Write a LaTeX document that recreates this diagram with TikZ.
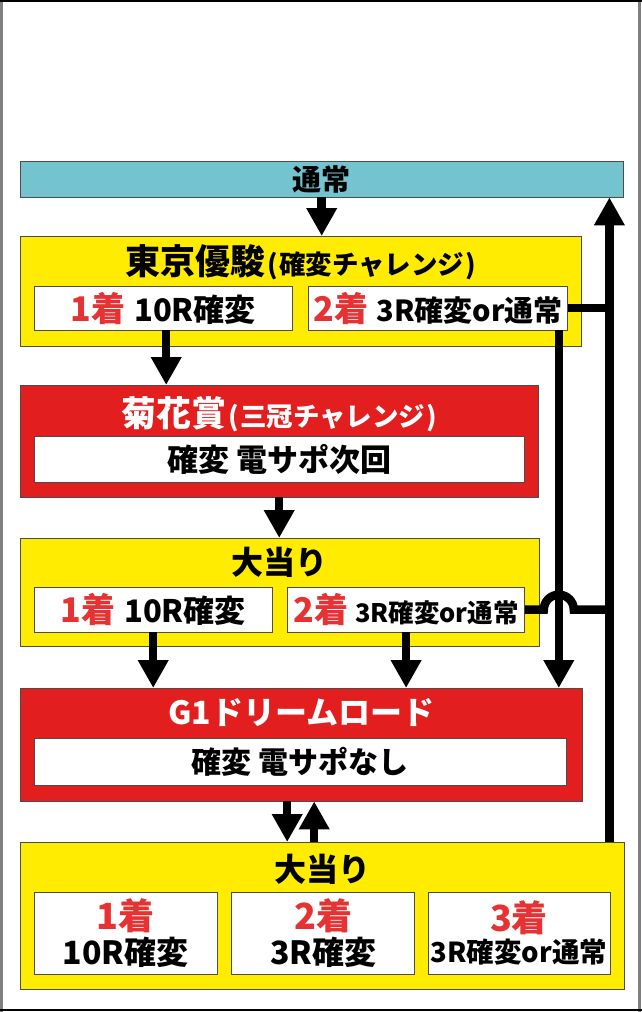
\documentclass[tikz,border=0pt]{standalone}
\usepackage{fontspec}
\setmainfont{Noto Sans CJK JP}
\usetikzlibrary{positioning, calc, arrows.meta}
\definecolor{tsujoblue}{RGB}{116,196,208}
\definecolor{boxyellow}{RGB}{255,236,0}
\definecolor{boxred}{RGB}{226,30,30}
\definecolor{chakured}{RGB}{230,50,50}
\newcommand{\fsz}[1]{\fontsize{#1}{#1}\selectfont}
\newcommand{\chaku}[1]{{\color{chakured}\fsz{34}#1}}
\newcommand{\paren}[1]{\hspace{2pt}(\hspace{1pt}#1\hspace{1pt})}
\tikzset{
    every node/.style={font=\bfseries},
    bluebox/.style={draw=black!70, fill=tsujoblue, anchor=north west, inner sep=0pt},
    yellowbox/.style={draw=black!70, fill=boxyellow, anchor=north west, inner sep=0pt},
    redbox/.style={draw=black!70, fill=boxred, anchor=north west, inner sep=0pt},
    whitebox/.style={draw=black!70, fill=white, anchor=north west, inner sep=0pt, align=center},
    arrow/.style={-{Triangle[length=28pt, width=29pt]}, line width=8.5pt},
    rail/.style={line width=8.5pt},
}

\begin{document}
\begin{tikzpicture}[x=1pt, y=-1pt]
   \useasboundingbox (0,0) rectangle (642,1012);
% page frame
   \draw[gray, line width=2.5pt] (1.25,0) -- (1.25,1012) (639.5,0) -- (639.5,1012);
   \draw[black, line width=2pt] (0,1) -- (642,1) (0,1010) -- (642,1010);
% normal state and first race
   \node[bluebox, minimum width=603pt, minimum height=36pt] (tsujo) at (20,161) {\fsz{29}通常};
   \node[yellowbox, minimum width=561pt, minimum height=110pt] (tokyo) at (20,236) {};
   \node (tokyoT) at ([yshift=-26pt]tokyo.north) {\fsz{35}東京優駿\fsz{26.5}\paren{確変チャレンジ}};
   \node[whitebox, minimum width=258pt, minimum height=44pt] (tk1) at (34,286) {\chaku{1着}\hspace{9pt}\fsz{31}10R確変};
   \node[whitebox, minimum width=259pt, minimum height=44pt, right=16pt of tk1] (tk2) {\chaku{2着}\hspace{8pt}\fsz{29}3R確変or通常};
% second race
   \node[redbox, minimum width=518pt, minimum height=112pt] (kikka) at (20,385) {};
   \node[text=white] (kikkaT) at ([yshift=-29pt]kikka.north) {\fsz{35}菊花賞\fsz{26.5}\paren{三冠チャレンジ}};
   \node[whitebox, minimum width=490pt, minimum height=46pt] (kkIn) at (34,436) {\fsz{31}確変 電サポ次回};
% jackpot after kikka-sho
   \node[yellowbox, minimum width=519pt, minimum height=108pt] (oa) at (20,538) {};
   \node (oaT) at ([yshift=-24pt]oa.north) {\fsz{32}大当り};
   \node[whitebox, minimum width=238pt, minimum height=45pt] (oa1) at (34,587) {\chaku{1着}\hspace{9pt}\fsz{31}10R確変};
   \node[whitebox, minimum width=237pt, minimum height=45pt, right=15pt of oa1] (oa2) {\chaku{2着}\hspace{7pt}\fsz{25.5}3R確変or通常};
% dream road
   \node[redbox, minimum width=562pt, minimum height=113pt] (g1) at (20,688) {};
   \node[text=white] (g1T) at ([yshift=-25pt]g1.north) {\fsz{32}G1ドリームロード};
   \node[whitebox, minimum width=532pt, minimum height=47pt] (g1In) at (34,738) {\fsz{30}確変 電サポなし};
% final jackpot
   \node[yellowbox, minimum width=604pt, minimum height=147pt] (fin) at (20,842) {};
   \node (finT) at ([yshift=-27pt]fin.north) {\fsz{32}大当り};
   \node[whitebox, minimum width=183pt, minimum height=82pt] (fin1) at (34,892) {{\color{chakured}\fsz{36}1着}\\[3pt]\fsz{32}10R確変};
   \node[whitebox, minimum width=183pt, minimum height=82pt, right=14pt of fin1] (fin2) {{\color{chakured}\fsz{36}2着}\\[3pt]\fsz{32}3R確変};
   \node[whitebox, minimum width=182pt, minimum height=82pt, right=13pt of fin2] (fin3) {{\color{chakured}\fsz{36}3着}\\[3pt]\fsz{27.5}3R確変or通常};
% connectors
   \coordinate (rail) at ([xshift=-15pt]fin.north east);
   \draw[arrow] (tsujo.south) -- (tsujo.south |- tokyo.north);
   \draw[arrow] ([xshift=3pt]tk1.south) -- ([xshift=3pt]tk1.south |- kikka.north);
   \draw[arrow] (kikka.south) -- (kikka.south |- oa.north);
   \draw[arrow] (oa1.south) -- (oa1.south |- g1.north);
   \draw[arrow] (oa2.south) -- (oa2.south |- g1.north);
   \draw[arrow] ([xshift=-9pt]tk2.south east) -- ([xshift=-9pt]tk2.south east |- g1.north);
   \draw[arrow] (rail) -- (rail |- tsujo.south);
   \draw[rail] (tk2.east) -- (tk2.east -| rail);
   \draw[rail] (oa2.east) -- ++(19,0) arc[start angle=180, end angle=360, radius=15] -- (oa2.east -| rail);
   \draw[arrow] ([xshift=-14pt]g1.south) -- ([xshift=-14pt]g1.south |- fin.north);
   \draw[arrow] ([xshift=13pt]g1.south |- fin.north) -- ([xshift=13pt]g1.south);
\end{tikzpicture}
\end{document}
